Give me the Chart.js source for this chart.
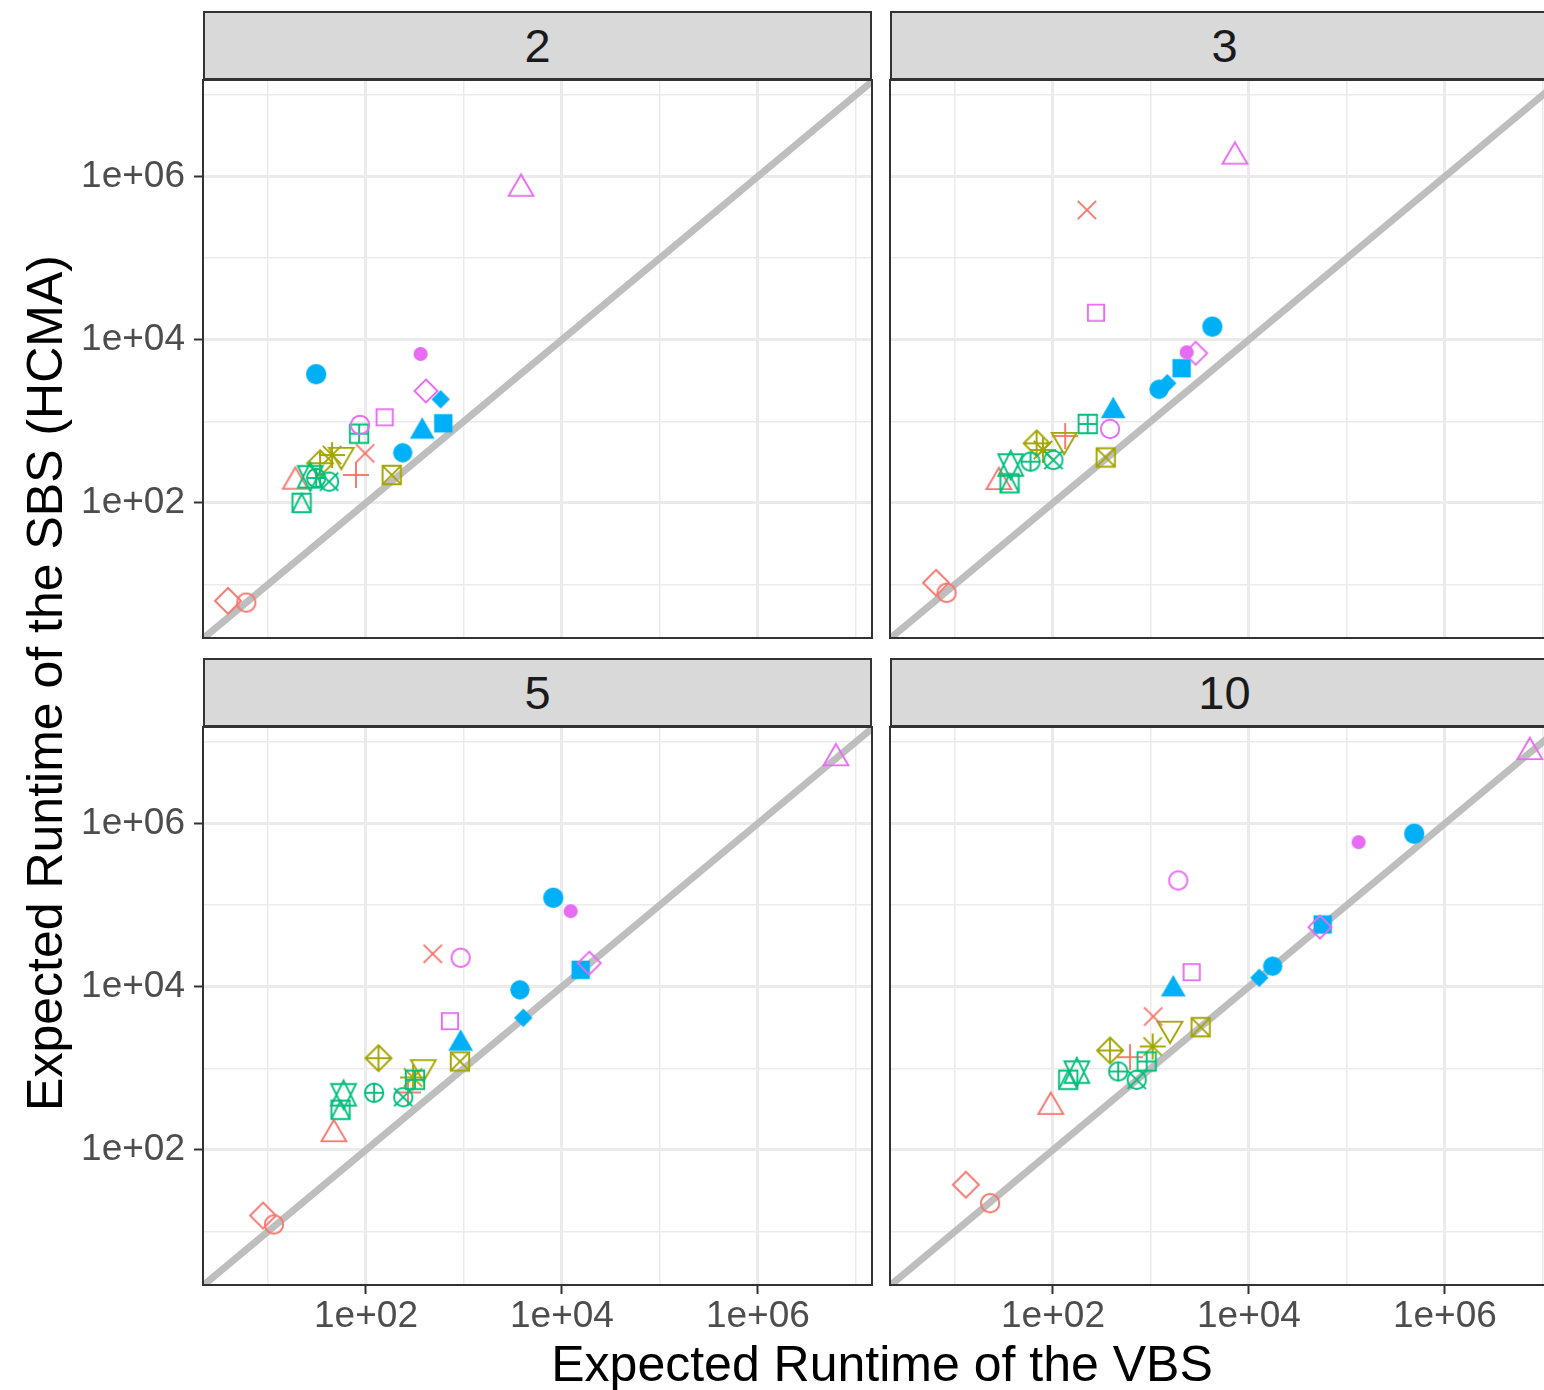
<!DOCTYPE html>
<html>
<head>
<meta charset="utf-8">
<script src="https://cdn.jsdelivr.net/npm/chart.js@4.4.0/dist/chart.umd.min.js"></script>
<style>
  html, body { margin: 0; padding: 0; background: #fff; }
  body { width: 1544px; height: 1390px; overflow: hidden; position: relative;
         font-family: "Liberation Sans", Arial, Helvetica, sans-serif; }
  .strip { position: absolute; box-sizing: border-box; width: 669px; height: 69px;
           background: #D9D9D9; border: 2px solid #333; text-align: center;
           line-height: 65px; font-size: 47px; color: #1A1A1A; }
  canvas.panel { position: absolute; }
  .title { position: absolute; width: 1000px; height: 50px; font-size: 50px; line-height: 50px;
           color: #000; white-space: nowrap; text-align: center; }
</style>
</head>
<body>
<div class="title" style="left:382px; top:1339px;">Expected Runtime of the VBS</div>
<div class="title" style="left:-455px; top:658px; transform:rotate(-90deg);">Expected Runtime of the SBS (HCMA)</div>
<script>
// facets = portfolio size, one point per algorithm (ggplot shapes 1..24)
const FACETS = ["2", "3", "5", "10"];
const SHAPES = [1, 2, 3, 4, 5, 6, 7, 8, 9, 10, 11, 12, 13, 14, 15, 16, 17, 18, 19, 20, 21, 22, 23, 24];
const RED = "#F8766D", OLIVE = "#A3A500", GREEN = "#00BF7D", BLUE = "#00B0F6", PINK = "#E76BF3";
const POINT_COLORS = [RED, RED, RED, RED, RED, OLIVE, OLIVE, OLIVE, OLIVE,
  GREEN, GREEN, GREEN, GREEN, GREEN, BLUE, BLUE, BLUE, BLUE, BLUE, PINK, PINK, PINK, PINK, PINK];

// x = expected runtime of the VBS, y = expected runtime of the SBS (HCMA)
const VBS_2  = [6.0, 19, 79, 98, 3.9, 56, 183, 45, 34, 31, 27, 85, 42, 22, 615, 237, 375, 578, 31, 361, 87, 155, 409, 3820];
const SBS_2  = [6.0, 182, 220, 405, 6.3, 387, 220, 386, 306, 202, 209, 705, 182, 100, 945, 412, 750, 1860, 3770, 6680, 901, 1120, 2350, 708000];
const VBS_3  = [8.2, 28, 133, 222, 6.4, 130, 345, 79, 68, 59, 37, 226, 101, 36, 2055, 1208, 412, 1466, 4227, 2312, 382, 275, 2858, 7190];
const SBS_3  = [7.9, 180, 660, 388000, 10.5, 590, 360, 445, 537, 320, 291, 927, 335, 174, 4467, 2466, 1340, 2924, 14430, 7014, 805, 21400, 6810, 1750000];
const VBS_5  = [11.5, 47, 268, 480, 8.9, 385, 910, 302, 134, 121, 59, 316, 240, 55, 15520, 3724, 925, 4027, 8150, 12270, 925, 720, 19000, 6250000];
const SBS_5  = [12.2, 156, 505, 25300, 15.7, 1030, 1211, 771, 1330, 501, 473, 723, 442, 310, 16110, 9160, 2010, 4156, 122800, 84200, 22600, 3780, 19400, 6300000];
const VBS_10 = [22.8, 95, 611, 1054, 12.9, 1563, 3214, 1040, 382, 463, 175, 904, 715, 143, 56500, 17460, 1690, 12740, 486000, 131500, 1900, 2600, 53000, 7360000];
const SBS_10 = [22.2, 337, 1368, 4315, 37.4, 3050, 3190, 1850, 1652, 914, 896, 1211, 723, 723, 57800, 17830, 9300, 12850, 748000, 590000, 200000, 15060, 53600, 7500000];

const X_LIMITS = [2.17, 1.46e7];
const Y_LIMITS = [2.21, 1.52e7];
const MAJOR_TICKS = [1e2, 1e4, 1e6];
const TICK_LABELS = ["1e+02", "1e+04", "1e+06"];
const ALL_TICKS = [1e1, 1e2, 1e3, 1e4, 1e5, 1e6, 1e7];
const REF_LINE = [1, 1e8]; // y = x

const FONT = '"Liberation Sans", Arial, Helvetica, sans-serif';
const PW = 669, PH = 558, AX_W = 130, AX_H = 80, PAD = 10;
const PANELS = [
  { facet: FACETS[0], vbs: VBS_2,  sbs: SBS_2,  left: 203, top: 80,  xlab: false, ylab: true },
  { facet: FACETS[1], vbs: VBS_3,  sbs: SBS_3,  left: 890, top: 80,  xlab: false, ylab: false },
  { facet: FACETS[2], vbs: VBS_5,  sbs: SBS_5,  left: 203, top: 727, xlab: true,  ylab: true },
  { facet: FACETS[3], vbs: VBS_10, sbs: SBS_10, left: 890, top: 727, xlab: true,  ylab: false }
];

// R pch glyphs drawn once into small canvases, used as point styles
function glyph(shape, color){
  const c = document.createElement("canvas"); c.width = c.height = 44;
  const g = c.getContext("2d");
  const r = 9.2;
  g.translate(22, 22);
  g.strokeStyle = color; g.fillStyle = color; g.lineWidth = 1.9;
  const poly = (pts, close) => { g.beginPath(); g.moveTo(pts[0][0], pts[0][1]); pts.slice(1).forEach(p => g.lineTo(p[0], p[1])); if (close !== false) g.closePath(); };
  const circle = (a) => { g.beginPath(); g.arc(0, 0, a, 0, Math.PI * 2); };
  const seg = (x1, y1, x2, y2) => { g.beginPath(); g.moveTo(x1, y1); g.lineTo(x2, y2); g.stroke(); };
  const plus = (a) => { seg(-a, 0, a, 0); seg(0, -a, 0, a); };
  const cross = (a) => { seg(-a, -a, a, a); seg(-a, a, a, -a); };
  const tri = (s) => poly([[0, -s * 1.555 * r], [1.347 * r, s * 0.777 * r], [-1.347 * r, s * 0.777 * r]]);
  const diamond = (a) => poly([[0, -a], [a, 0], [0, a], [-a, 0]]);
  const square = (a) => { g.beginPath(); g.rect(-a, -a, 2 * a, 2 * a); };
  switch (shape){
    case 1: case 21: circle(r); g.stroke(); break;
    case 2: case 24: tri(1); g.stroke(); break;
    case 3: plus(1.414 * r); break;
    case 4: cross(r); break;
    case 5: diamond(1.414 * r); g.stroke(); break;
    case 6: tri(-1); g.stroke(); break;
    case 7: square(r); g.stroke(); cross(r); break;
    case 8: cross(r); plus(1.414 * r); break;
    case 9: diamond(1.414 * r); g.stroke(); plus(1.414 * r); break;
    case 10: circle(r); g.stroke(); plus(r); break;
    case 11: {
      const t = 1.555 * r, w = 1.347 * r, yc = 1.166 * r;
      poly([[0, -t], [w, yc], [-w, yc]]); g.stroke();
      poly([[0, t], [w, -yc], [-w, -yc]]); g.stroke();
      break;
    }
    case 12: square(r); g.stroke(); plus(r); break;
    case 13: circle(r); g.stroke(); cross(r); break;
    case 14: square(r); g.stroke(); poly([[-r, r], [0, -r], [r, r]], false); g.stroke(); break;
    case 15: square(r); g.fill(); break;
    case 16: circle(r); g.fill(); g.lineWidth = 1; g.stroke(); break;
    case 17: tri(1); g.fill(); break;
    case 18: diamond(r); g.fill(); break;
    case 19: circle(r); g.fill(); g.stroke(); break;
    case 20: circle(r * 2 / 3); g.fill(); g.stroke(); break;
    case 22: square(0.886 * r); g.stroke(); break;
    case 23: diamond(1.2533 * r); g.stroke(); break;
  }
  return c;
}
const GLYPHS = SHAPES.map((s, i) => glyph(s, POINT_COLORS[i]));

const isMajor = (v) => MAJOR_TICKS.indexOf(v) >= 0;

function axis(isX, showLabels){
  const lim = isX ? X_LIMITS : Y_LIMITS;
  return {
    type: "logarithmic",
    position: isX ? "bottom" : "left",
    min: lim[0], max: lim[1], bounds: "data",
    afterBuildTicks: (s) => { s.ticks = ALL_TICKS.map(v => ({ value: v })); },
    afterFit: (s) => {
      if (isX) s.height = AX_H; else s.width = AX_W;
      s.paddingLeft = s.paddingRight = s.paddingTop = s.paddingBottom = 0;
    },
    border: { display: false },
    grid: {
      color: "#EBEBEB",
      lineWidth: (c) => isMajor(c.tick && c.tick.value) ? 3 : 1.5,
      drawTicks: true, tickLength: 9, tickWidth: 2,
      tickColor: (c) => showLabels && isMajor(c.tick && c.tick.value) ? "#333333" : "rgba(0,0,0,0)"
    },
    ticks: {
      display: showLabels, autoSkip: false, maxRotation: 0, minRotation: 0,
      padding: isX ? 1 : 9, color: "#4D4D4D", font: { family: FONT, size: 37 },
      callback: (v) => { const k = MAJOR_TICKS.indexOf(v); return k >= 0 ? TICK_LABELS[k] : ""; }
    }
  };
}

const framePlugin = {
  id: "frame",
  afterDraw(chart){
    const a = chart.chartArea, ctx = chart.ctx;
    ctx.save(); ctx.strokeStyle = "#333333"; ctx.lineWidth = 2;
    ctx.strokeRect(a.left, a.top, a.right - a.left, a.bottom - a.top);
    ctx.restore();
  }
};

for (const p of PANELS){
  const strip = document.createElement("div");
  strip.className = "strip"; strip.textContent = p.facet;
  strip.style.left = p.left + "px"; strip.style.top = (p.top - 69) + "px";
  document.body.appendChild(strip);

  const cv = document.createElement("canvas");
  cv.className = "panel";
  cv.width = AX_W + PW + PAD; cv.height = PAD + PH + AX_H;
  cv.style.left = (p.left - AX_W) + "px"; cv.style.top = (p.top - PAD) + "px";
  document.body.appendChild(cv);

  new Chart(cv.getContext("2d"), {
    type: "scatter",
    data: { datasets: [
      { type: "line", data: REF_LINE.map(v => ({ x: v, y: v })), borderColor: "#BEBEBE", borderWidth: 7,
        pointRadius: 0, clip: 0, order: 1 },
      { data: p.vbs.map((x, i) => ({ x, y: p.sbs[i] })), pointStyle: GLYPHS, pointRadius: 10,
        borderWidth: 0, order: 0 }
    ]},
    options: {
      responsive: false, animation: false, devicePixelRatio: 1, events: [],
      layout: { padding: { top: PAD, right: PAD, left: 0, bottom: 0 } },
      plugins: { legend: { display: false }, tooltip: { enabled: false } },
      scales: { x: axis(true, p.xlab), y: axis(false, p.ylab) }
    },
    plugins: [framePlugin]
  });
}
</script>
</body>
</html>
